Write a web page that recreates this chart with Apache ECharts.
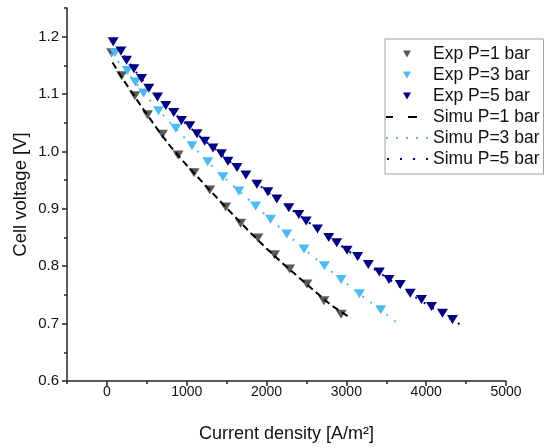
<!DOCTYPE html>
<html><head><meta charset="utf-8">
<script src="https://cdn.jsdelivr.net/npm/echarts@6/dist/echarts.min.js"></script>
<style>html,body{margin:0;padding:0;background:#fff}#c{width:555px;height:448px}</style>
</head><body><div id="c"></div>
<script>
// ---- data ----
const xTicks = [0, 1000, 2000, 3000, 4000, 5000];
const yTicks = [0.6, 0.7, 0.8, 0.9, 1.0, 1.1, 1.2];

const expP1_x = [59, 184, 350, 509, 696, 891, 1091, 1288, 1488, 1675, 1891, 2100, 2288, 2506, 2719, 2934];
const expP1_v = [1.172, 1.132, 1.097, 1.064, 1.030, 0.994, 0.963, 0.933, 0.903, 0.875, 0.849, 0.820, 0.795, 0.769, 0.740, 0.7165];

const expP3_x = [100, 256, 356, 459, 646, 863, 1066, 1263, 1454, 1654, 1863, 2050, 2254, 2469, 2725, 2934, 3163, 3431];
const expP3_v = [1.172, 1.141, 1.121, 1.102, 1.071, 1.0405, 1.010, 0.982, 0.956, 0.931, 0.905, 0.882, 0.856, 0.830, 0.801, 0.777, 0.752, 0.724];

const expP5_x = [79, 175, 246, 338, 434, 525, 634, 738, 838, 934, 1038, 1129, 1225, 1329, 1434, 1516, 1629, 1741, 1879, 2016, 2129, 2279, 2404, 2496, 2638, 2779, 2879, 3009, 3141, 3275, 3413, 3534, 3675, 3800, 3941, 4066, 4204, 4329];
const expP5_v = [1.191, 1.175, 1.159, 1.144, 1.127, 1.110, 1.095, 1.080, 1.068, 1.054, 1.045, 1.031, 1.018, 1.006, 0.996, 0.983, 0.972, 0.959, 0.943, 0.930, 0.917, 0.902, 0.890, 0.879, 0.865, 0.850, 0.841, 0.828, 0.817, 0.803, 0.790, 0.777, 0.768, 0.753, 0.742, 0.730, 0.718, 0.707];

const simP1_x = [70, 200, 400, 600, 800, 1000, 1200, 1400, 1600, 1800, 2000, 2200, 2400, 2600, 2800, 3060];
const simP1_v = [1.155, 1.126, 1.085, 1.045, 1.008, 0.976, 0.946, 0.916, 0.887, 0.858, 0.831, 0.805, 0.781, 0.757, 0.733, 0.709];

const simP3_x = [50, 200, 400, 600, 800, 1000, 1200, 1400, 1600, 1800, 2000, 2200, 2400, 2600, 2800, 3000, 3200, 3400, 3675];
const simP3_v = [1.170, 1.148, 1.112, 1.079, 1.049, 1.020, 0.991, 0.963, 0.938, 0.913, 0.888, 0.863, 0.838, 0.815, 0.792, 0.770, 0.748, 0.727, 0.697];

const simP5_x = [50, 200, 400, 600, 800, 1000, 1200, 1400, 1600, 1800, 2000, 2200, 2400, 2600, 2800, 3000, 3200, 3400, 3600, 3800, 4000, 4200, 4504];
const simP5_v = [1.193, 1.170, 1.132, 1.099, 1.072, 1.047, 1.022, 0.999, 0.975, 0.953, 0.931, 0.910, 0.890, 0.869, 0.849, 0.829, 0.810, 0.790, 0.771, 0.752, 0.734, 0.717, 0.692];

const names = ['Exp P=1 bar', 'Exp P=3 bar', 'Exp P=5 bar', 'Simu P=1 bar', 'Simu P=3 bar', 'Simu P=5 bar'];

// ---- chart ----
const FONT = '"Liberation Sans", Arial, sans-serif';
const C_GRAY = '#595959', C_LIGHT = '#4DBAF3', C_NAVY = '#000080';
const pairs = (xs, ys) => xs.map((x, i) => [x, ys[i]]);
const axCol = '#262626';
const chart = echarts.init(document.getElementById('c'));

// legend icon paths (frame 42x9 fixed by two near-zero-area corner triangles)
const FRAME = 'M0,0L0.01,0L0,0.01Z M42,9L41.99,9L42,8.99Z ';
const ICON_TRI = 'path://' + FRAME + 'M17,1L25,1L21,8Z';
const ICON_DASH = 'path://' + FRAME + 'M0,3.5L7,3.5L7,5.5L0,5.5Z M22,3.5L31,3.5L31,5.5L22,5.5Z';
const dotIcon = (step, n, start) => {
  let d = '';
  for (let k = 0; k < n; k++) { const a = start + k * step; d += `M${a},3.5L${a + 2},3.5L${a + 2},5.5L${a},5.5Z `; }
  return 'path://' + FRAME + d;
};
const ICON_DOT3 = dotIcon(10, 5, 0);
const ICON_DOT5 = dotIcon(13.3, 4, 1);

const expSeries = (name, xs, ys, color) => ({
  name, type: 'scatter', data: pairs(xs, ys),
  symbol: 'triangle', symbolRotate: 180, symbolSize: [11, 9],
  itemStyle: { color, opacity: 1 }, z: 2
});
const simSeries = (name, xs, ys, color, dash) => ({
  name, type: 'line', data: pairs(xs, ys), symbol: 'none', showSymbol: false,
  lineStyle: { color, width: 2, type: dash }, itemStyle: { color }, z: 3
});

chart.setOption({
  animation: false,
  backgroundColor: '#fff',
  textStyle: { fontFamily: FONT },
  grid: { left: 67, right: 49, top: 8, bottom: 65 },
  legend: {
    orient: 'vertical', left: 385, top: 39,
    borderColor: '#a0a0a0', borderWidth: 1, borderRadius: 0,
    padding: [6, 4, 6, 1], itemGap: 3, itemWidth: 42, itemHeight: 9,
    symbolRotate: 0,
    textStyle: { fontSize: 17.5, color: '#111', fontFamily: FONT, lineHeight: 17 },
    data: [
      { name: names[0], icon: ICON_TRI },
      { name: names[1], icon: ICON_TRI },
      { name: names[2], icon: ICON_TRI },
      { name: names[3], icon: ICON_DASH },
      { name: names[4], icon: ICON_DOT3 },
      { name: names[5], icon: ICON_DOT5 }
    ]
  },
  xAxis: [
    {
      type: 'value', min: -500, max: 5000, interval: 500,
      axisLine: { show: true, onZero: false, lineStyle: { color: axCol, width: 1.5 } },
      axisTick: { show: true, length: 3, lineStyle: { color: axCol, width: 1.5 } },
      axisLabel: { show: false }, splitLine: { show: false },
      name: 'Current density [A/m²]', nameLocation: 'middle', nameGap: 44,
      nameTextStyle: { fontSize: 18, color: '#111', fontFamily: FONT }
    },
    {
      type: 'value', min: -500, max: 5000, position: 'bottom',
      axisLine: { show: false, onZero: false },
      axisTick: { show: true, length: 5, customValues: xTicks, lineStyle: { color: axCol, width: 1.5 } },
      axisLabel: { show: true, customValues: xTicks, fontSize: 14, margin: 4, color: '#111', fontFamily: FONT,
        formatter: v => String(v) },
      splitLine: { show: false }
    }
  ],
  yAxis: [
    {
      type: 'value', min: 0.6, max: 1.25, interval: 0.05,
      axisLine: { show: true, onZero: false, lineStyle: { color: axCol, width: 1.5 } },
      axisTick: { show: true, length: 3, lineStyle: { color: axCol, width: 1.5 } },
      axisLabel: { show: false }, splitLine: { show: false },
      name: 'Cell voltage [V]', nameLocation: 'middle', nameGap: 37, nameRotate: 90,
      nameTextStyle: { fontSize: 18.5, color: '#111', fontFamily: FONT }
    },
    {
      type: 'value', min: 0.6, max: 1.25, position: 'left',
      axisLine: { show: false, onZero: false },
      axisTick: { show: true, length: 5, customValues: yTicks, lineStyle: { color: axCol, width: 1.5 } },
      axisLabel: { show: true, customValues: yTicks, fontSize: 15, margin: 8, color: '#111', fontFamily: FONT,
        formatter: v => v.toFixed(1) },
      splitLine: { show: false }
    }
  ],
  series: [
    expSeries(names[0], expP1_x, expP1_v, C_GRAY),
    expSeries(names[1], expP3_x, expP3_v, C_LIGHT),
    expSeries(names[2], expP5_x, expP5_v, C_NAVY),
    simSeries(names[3], simP1_x, simP1_v, '#000', [7, 4]),
    simSeries(names[4], simP3_x, simP3_v, C_LIGHT, [2, 8]),
    simSeries(names[5], simP5_x, simP5_v, C_NAVY, [2, 8])
  ]
});
</script></body></html>
